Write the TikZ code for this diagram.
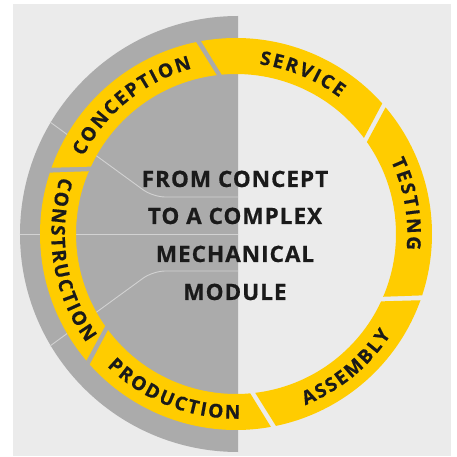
\documentclass[tikz,border=0pt]{standalone}
\usepackage{fontspec}
\setmainfont{Open Sans}[BoldFeatures={FakeBold=0.6}]
\newfontfamily\ctrfont{Open Sans}[LetterSpace=4.5,BoldFeatures={FakeBold=0.6}]
\definecolor{bgl}{HTML}{EBEBEB}
\definecolor{bgd}{HTML}{ABABAB}
\definecolor{ylw}{HTML}{FFCC00}
\definecolor{ink}{HTML}{1A1A1A}
\definecolor{seam}{HTML}{D2D2D2}
\newdimen\rwlen
\newcommand\ringfont{\fontsize{19}{19}\selectfont\bfseries}
\newcommand\rtrack{2.1}
% #1 name, #2 letters, #3 mid angle, #4 baseline radius, #5 direction (+1 ccw, -1 cw)
\newcommand\ringword[5]{%
  \gdef\rwtot{0}%
  \foreach \rwch in {#2}{%
    \setbox0=\hbox{\ringfnt\rwch}\rwlen=\wd0
    \pgfmathsetmacro\rwt{\rwtot+\the\rwlen+\rtrack}%
    \xdef\rwtot{\rwt}}%
  \pgfmathsetmacro\rwt{\rwtot-\rtrack}\xdef\rwtot{\rwt}%
  \gdef\rwpos{0}%
  \foreach \rwch [count=\rwi] in {#2}{%
    \setbox0=\hbox{\ringfnt\rwch}\rwlen=\wd0
    \pgfmathsetmacro\rws{\rwpos+\the\rwlen/2-\rwtot/2}%
    \pgfmathsetmacro\rwa{#3+(#5)*\rws/#4*180/pi}%
    \pgfmathsetmacro\rwr{\rwa+(#5)*90}%
    \node[ringletter,rotate=\rwr] (#1-\rwi) at (\rwa:#4) {\rwch};%
    \pgfmathsetmacro\rwt{\rwpos+\the\rwlen+\rtrack}%
    \xdef\rwpos{\rwt}}%
}
\tikzset{
  ringletter/.style={font=\ringfont, text=ink, inner sep=0pt, anchor=base},
  ctr/.style={font=\ctrfont\fontsize{22.5}{22.5}\selectfont\bfseries, text=ink, inner sep=0pt, anchor=base},
  seamline/.style={draw=seam, line width=0.9pt, rounded corners=12pt},
  segment/.style={fill=ylw}
}
\begin{document}
\ringfont\expandafter\let\expandafter\ringfnt\the\font\normalfont%
\begin{tikzpicture}[x=1pt,y=1pt]
\useasboundingbox (-236,-223) rectangle (220,234);
\fill[white] (-236,-223) rectangle (220,234);
\fill[bgl] (-223,-222) rectangle (215,230);
% dark half disc
\fill[bgd] (2,218) arc[start angle=90,end angle=270,radius=218] -- cycle;
% seam lines
\draw[seamline] (-186,112) -- (-83,37) -- (2,37);
\draw[seamline] (-216,0) -- (2,0);
\draw[seamline] (-186,-112) -- (-83,-37) -- (2,-37);
% ring segments
\foreach \k in {0,...,5}{
  \pgfmathsetmacro\ao{41+60*\k+0.75}
  \pgfmathsetmacro\bo{101+60*\k-0.75}
  \pgfmathsetmacro\ai{36+60*\k+0.9}
  \pgfmathsetmacro\bi{96+60*\k-0.9}
  \fill[segment] (\ao:196) arc[start angle=\ao,end angle=\bo,radius=196]
     -- (\bi:160) arc[start angle=\bi,end angle=\ai,radius=160] -- cycle;
}
% ring labels
\ringword{service}{S,E,R,V,I,C,E}{67.5}{171.3}{-1}
\ringword{conception}{C,O,N,C,E,P,T,I,O,N}{129}{171.3}{-1}
\ringword{testing}{T,E,S,T,I,N,G}{10}{171.3}{-1}
\ringword{construction}{C,O,N,S,T,R,U,C,T,I,O,N}{189}{184.7}{1}
\ringword{production}{P,R,O,D,U,C,T,I,O,N}{248.5}{184.7}{1}
\ringword{assembly}{A,S,S,E,M,B,L,Y}{309.5}{184.7}{1}
% centre text
\node[ctr] (t1) at (-1,47) {FROM CONCEPT};
\node[ctr] (t2) at (-1,10) {TO A COMPLEX};
\node[ctr] (t3) at (-1,-28) {MECHANICAL};
\node[ctr] (t4) at (-1,-66) {MODULE};
\end{tikzpicture}
\end{document}
